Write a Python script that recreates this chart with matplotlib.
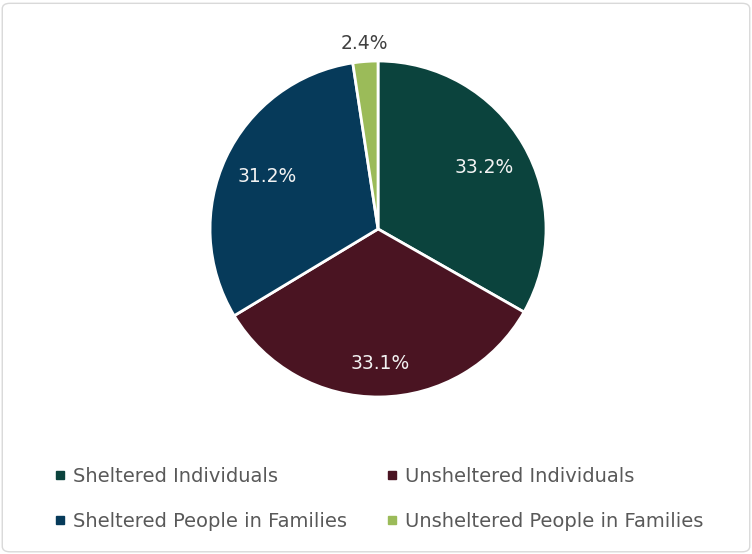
import matplotlib
matplotlib.use("Agg")
import matplotlib.pyplot as plt
from matplotlib.lines import Line2D
from matplotlib.patches import FancyBboxPatch
import numpy as np

categories = ["Sheltered Individuals", "Unsheltered Individuals",
              "Sheltered People in Families", "Unsheltered People in Families"]
values = [33.2, 33.1, 31.2, 2.4]
labels = ["33.2%", "33.1%", "31.2%", "2.4%"]
colors = ["#0b433d", "#4a1422", "#063a5a", "#9bbb59"]
label_colors = ["#f2f2f2", "#f2f2f2", "#f2f2f2", "#404040"]
label_dist = [0.73, 0.80, 0.73, 1.11]

plt.rcParams['font.family'] = ['DejaVu Sans']

fig = plt.figure(figsize=(7.52, 5.54), dpi=100)
fig.patches.append(FancyBboxPatch((0.003, 0.004), 0.994, 0.99,
                                  boxstyle="round,pad=0,rounding_size=0.01",
                                  transform=fig.transFigure, facecolor="white",
                                  edgecolor="#d9d9d9", linewidth=1, zorder=-10))

ax = fig.add_axes([0.2793, 0.2834, 0.4468, 0.6065])
wedges, _ = ax.pie(values, colors=colors, startangle=90, counterclock=False,
                   wedgeprops=dict(edgecolor="white", linewidth=2))
for w, lab, c, d in zip(wedges, labels, label_colors, label_dist):
    ang = np.deg2rad((w.theta1 + w.theta2) / 2)
    ax.text(d * np.cos(ang), d * np.sin(ang), lab, ha="center", va="center",
            color=c, fontsize=13.5)
ax.set_aspect("equal")
ax.set_xlim(-1, 1)
ax.set_ylim(-1, 1)
ax.axis("off")

order = [0, 2, 1, 3]
handles = [Line2D([0], [0], marker="s", linestyle="none", markersize=6,
                  markerfacecolor=colors[i], markeredgecolor=colors[i]) for i in order]
leg = fig.legend(handles, [categories[i] for i in order], ncol=2,
                 loc="upper left", bbox_to_anchor=(0.050, 0.189),
                 frameon=False, fontsize=14, handlelength=0.5, handletextpad=0.4,
                 columnspacing=2.1, labelspacing=1.35, labelcolor="#595959")

fig.savefig("out.png", dpi=100)
